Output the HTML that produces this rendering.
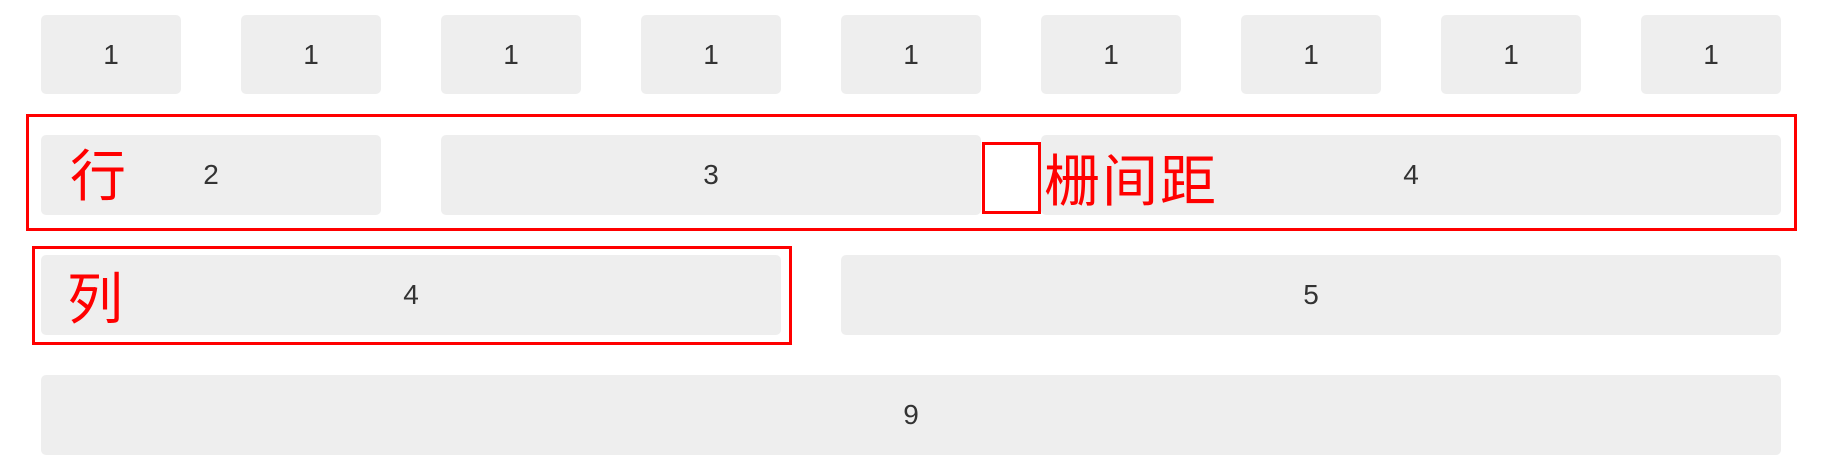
<!DOCTYPE html>
<html><head><meta charset="utf-8"><style>
body{margin:0;width:1824px;height:472px;background:#fff;position:relative;overflow:hidden;font-family:"Liberation Sans","Noto Sans CJK SC",sans-serif}
.b{position:absolute;background:#eee;border-radius:5px;color:#333;font-size:28px;display:flex;align-items:center;justify-content:center}
.r{position:absolute;border:3px solid #f00;box-sizing:border-box}
.t{position:absolute;color:#f00;font-family:"Noto Sans CJK SC","WenQuanYi Zen Hei",sans-serif;font-size:56px;line-height:1;white-space:nowrap}
</style></head><body>
<div class="b" style="left:41px;top:15px;width:140px;height:79px">1</div>
<div class="b" style="left:241px;top:15px;width:140px;height:79px">1</div>
<div class="b" style="left:441px;top:15px;width:140px;height:79px">1</div>
<div class="b" style="left:641px;top:15px;width:140px;height:79px">1</div>
<div class="b" style="left:841px;top:15px;width:140px;height:79px">1</div>
<div class="b" style="left:1041px;top:15px;width:140px;height:79px">1</div>
<div class="b" style="left:1241px;top:15px;width:140px;height:79px">1</div>
<div class="b" style="left:1441px;top:15px;width:140px;height:79px">1</div>
<div class="b" style="left:1641px;top:15px;width:140px;height:79px">1</div>

<div class="b" style="left:41px;top:135px;width:340px;height:80px">2</div>
<div class="b" style="left:441px;top:135px;width:540px;height:80px">3</div>
<div class="b" style="left:1041px;top:135px;width:740px;height:80px">4</div>

<div class="b" style="left:41px;top:255px;width:740px;height:80px">4</div>
<div class="b" style="left:841px;top:255px;width:940px;height:80px">5</div>

<div class="b" style="left:41px;top:375px;width:1740px;height:80px">9</div>

<div class="r" style="left:26px;top:114px;width:1771px;height:117px"></div>
<div class="r" style="left:32px;top:246px;width:760px;height:99px"></div>
<div class="r" style="left:982px;top:142px;width:59px;height:72px;background:#fff"></div>

<div class="t" style="left:70px;top:145px">行</div>
<div class="t" style="left:67px;top:268px">列</div>
<div class="t" style="left:1044px;top:150px;letter-spacing:2px">栅间距</div>
</body></html>
